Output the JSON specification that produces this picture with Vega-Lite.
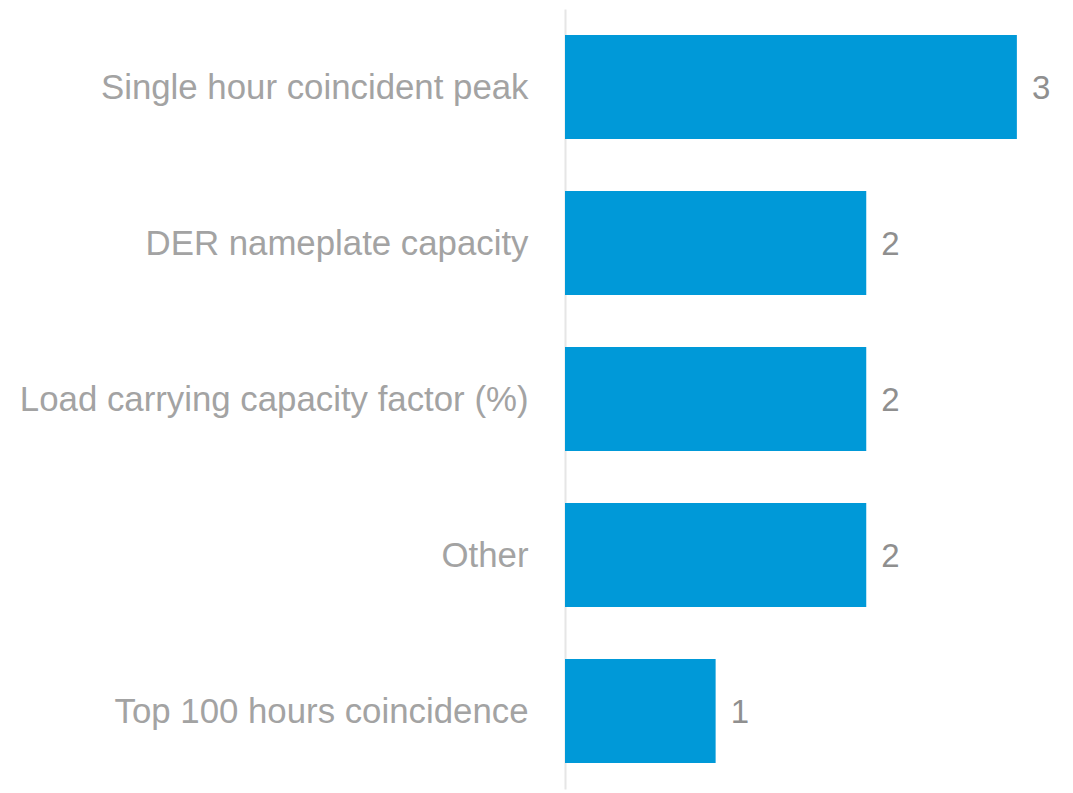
{
  "$schema": "https://vega.github.io/schema/vega-lite/v6.json",
  "autosize": {"type": "none"},
  "width": 482,
  "height": 780,
  "padding": {"left": 565, "top": 9, "right": 26, "bottom": 4},
  "background": "white",
  "config": {"view": {"stroke": null}, "font": "Liberation Sans"},
  "data": {"values": [
    {"category": "Single hour coincident peak", "count": 3},
    {"category": "DER nameplate capacity", "count": 2},
    {"category": "Load carrying capacity factor (%)", "count": 2},
    {"category": "Other", "count": 2},
    {"category": "Top 100 hours coincidence", "count": 1}
  ]},
  "encoding": {
    "y": {"field": "category", "type": "nominal", "sort": null,
      "scale": {"paddingInner": 0.333, "paddingOuter": 0.1667},
      "axis": {"title": null, "ticks": false, "domainColor": "#e6e6e6", "domainWidth": 2,
        "labelFontSize": 34.8, "labelColor": "#a3a3a3", "labelPadding": 37, "labelOffset": 2, "labelLimit": 700, "labelFont": "Liberation Sans"}},
    "x": {"field": "count", "type": "quantitative", "scale": {"domain": [0, 3.2], "nice": false}, "axis": null}
  },
  "layer": [
    {"mark": {"type": "bar", "color": "#0099d8"}},
    {"mark": {"type": "text", "align": "left", "baseline": "middle", "dx": 15, "dy": 2, "fontSize": 33, "color": "#8f8f8f", "font": "Liberation Sans"},
     "encoding": {"text": {"field": "count", "type": "quantitative"}}}
  ]
}
